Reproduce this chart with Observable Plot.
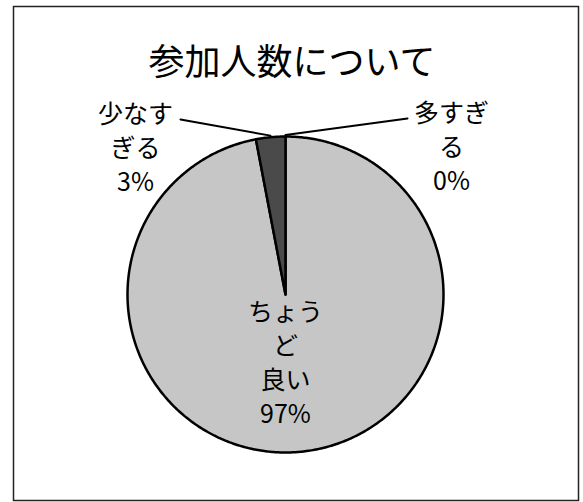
<!DOCTYPE html>
<html>
<head>
<meta charset="utf-8">
<script src="https://cdn.jsdelivr.net/npm/d3@7"></script>
<script src="https://cdn.jsdelivr.net/npm/@observablehq/plot@0.6"></script>
<style>
  html, body { margin: 0; padding: 0; background: #fff; }
  #chart svg { display: block; }
</style>
</head>
<body>
<div id="chart"></div>
<script>
// ---- data ----
const title = "参加人数について";
const categories = ["多すぎる", "ちょうど良い", "少なすぎる"];
const labelTexts = ["多すぎ\nる\n0%", "ちょう\nど\n良い\n97%", "少なす\nぎる\n3%"];
const values = [0, 97, 3];
const sliceColors = ["#9a9a9a", "#c6c6c6", "#4a4a4a"];

// ---- layout (pixels) ----
const W = 583, H = 502;
const cx = 285, cy = 294, R = 158;
const labelPx = [[451, 145], [285, 361], [135, 146]];
const leaderStartPx = [[407, 118], null, [180, 119]];

const toU = ([px, py]) => [(px - cx) / R, (cy - py) / R];

const pie = d3.pie().sort(null).value(d => d)(values);

// slice polygons
const polys = [];
pie.forEach((p, i) => {
  const n = Math.max(2, Math.ceil((p.endAngle - p.startAngle) / 0.01));
  polys.push({cat: categories[i], x: 0, y: 0});
  for (let k = 0; k <= n; k++) {
    const a = p.startAngle + (p.endAngle - p.startAngle) * k / n;
    polys.push({cat: categories[i], x: Math.sin(a), y: Math.cos(a)});
  }
  polys.push({cat: categories[i], x: 0, y: 0});
});

// labels
const labels = categories.map((c, i) => {
  const [x, y] = toU(labelPx[i]);
  return {cat: c, text: labelTexts[i], x, y};
});

// leader lines
const leaders = [];
pie.forEach((p, i) => {
  if (!leaderStartPx[i]) return;
  const [x0, y0] = toU(leaderStartPx[i]);
  const mid = (p.startAngle + p.endAngle) / 2;
  leaders.push({cat: categories[i], x: x0, y: y0});
  leaders.push({cat: categories[i], x: Math.sin(mid) * 1.01, y: Math.cos(mid) * 1.01});
});

const font = "'Noto Sans CJK JP', 'Noto Sans', sans-serif";

const chart = Plot.plot({
  width: W,
  height: H,
  margin: 0,
  style: {fontFamily: font, background: "#fff"},
  x: {domain: [-cx / R, (W - cx) / R], axis: null},
  y: {domain: [-(H - cy) / R, cy / R], axis: null},
  color: {domain: categories, range: sliceColors},
  marks: [
    Plot.frame({insetLeft: 13, insetTop: 6, insetRight: 5, insetBottom: 2, stroke: "#222", strokeWidth: 1.5}),
    Plot.line(polys, {x: "x", y: "y", z: "cat", fill: "cat", stroke: "#000", strokeWidth: 2.5, strokeLinejoin: "round"}),
    Plot.line(leaders, {x: "x", y: "y", z: "cat", stroke: "#000", strokeWidth: 2}),
    Plot.text(labels, {x: "x", y: "y", text: "text", fontSize: 25, lineHeight: 1.36, fill: "#000"}),
    Plot.text([title], {frameAnchor: "top", dy: 49, text: d => d, fontSize: 36, fill: "#000"})
  ]
});

document.getElementById("chart").appendChild(chart);
</script>
</body>
</html>
